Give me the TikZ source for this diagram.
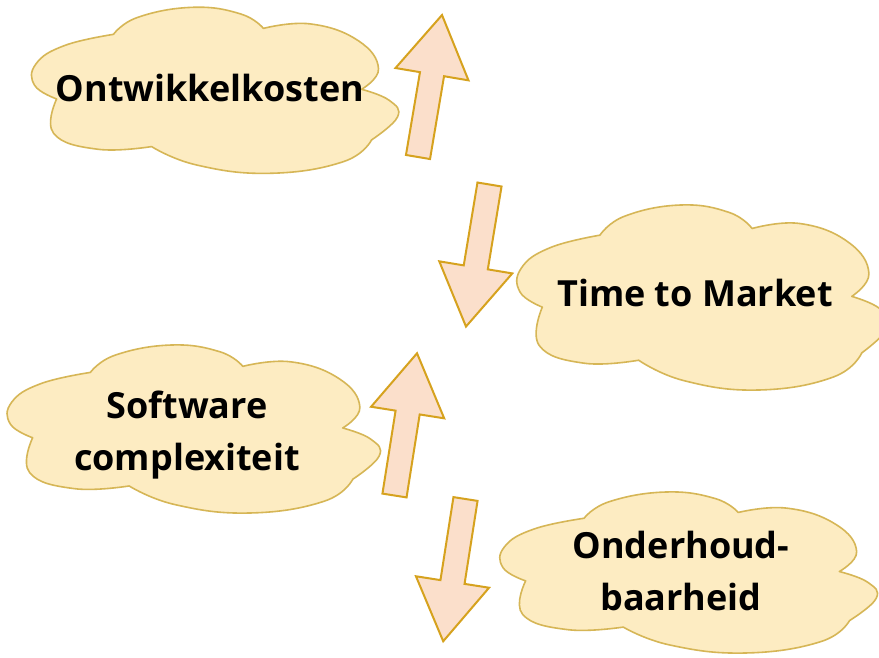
\documentclass[tikz,border=0pt]{standalone}
\usepackage{fontspec}
\setmainfont{Open Sans}
\definecolor{cloudfill}{HTML}{FDECC2}
\definecolor{cloudline}{HTML}{D6B656}
\definecolor{arrowfill}{HTML}{FBDFCB}
\definecolor{arrowline}{HTML}{D6A21E}

\tikzset{
  cloudbody/.style={fill=cloudfill, draw=cloudline, line width=1.6pt, line join=round},
  blockarrow/.style={fill=arrowfill, draw=arrowline, line width=2pt, line join=miter},
  cloudtext/.style={font=\fontsize{36}{52}\selectfont\bfseries, align=center, inner sep=0pt, text=black},
  lobe/.style={smooth, tension=0.75},
}

% Cloud outline drawn in a unit box: (0,0) is the top left corner, (1,1) the bottom right.
% Arguments: left, top, width, height.
\newcommand\cloudat[4]{%
  \begin{scope}[shift={(#1,#2)}, x=#3pt, y=-#4pt]
    \draw[cloudbody] (0.068,0.552)
      -- plot[lobe] coordinates {(0.068,0.552) (0.008,0.47) (0.012,0.34) (0.09,0.23) (0.223,0.163)}
      -- plot[lobe] coordinates {(0.223,0.163) (0.29,0.06) (0.44,0.0) (0.57,0.04) (0.632,0.127)}
      -- plot[lobe] coordinates {(0.632,0.127) (0.76,0.10) (0.89,0.20) (0.946,0.37) (0.9,0.494)}
      -- plot[lobe] coordinates {(0.9,0.494) (0.975,0.56) (0.998,0.66) (0.927,0.799)}
      -- plot[lobe] coordinates {(0.927,0.799) (0.85,0.93) (0.65,1.0) (0.45,0.95) (0.327,0.839)}
      -- plot[lobe] coordinates {(0.327,0.839) (0.18,0.855) (0.06,0.76) (0.068,0.552)}
      -- cycle;
  \end{scope}}

% Block arrow: tail midpoint and rotation (0 points straight up).
\newcommand\arrowat[3]{%
  \draw[blockarrow, shift={(#1,#2)}, rotate=#3]
    (-12.2,0) -- (12.2,0) -- (12.2,-84) -- (37,-84) -- (0,-144)
    -- (-37,-84) -- (-12.2,-84) -- cycle;}

\begin{document}
\begin{tikzpicture}[x=1pt, y=-1pt]
  \useasboundingbox[fill=white] (0,0) rectangle (879,657);

  % clouds
  \cloudat{31.7}{7.3}{366.6}{166}
  \cloudat{517}{205}{372}{185}
  \cloudat{7.3}{345}{372.7}{168}
  \cloudat{500}{492}{377}{161}

  % arrows
  \arrowat{418}{157}{-9.6}
  \arrowat{489.5}{184.5}{170.6}
  \arrowat{394.5}{495.5}{-9}
  \arrowat{465.5}{499}{171.1}

  % labels
  \node[cloudtext, anchor=base] (kosten) at (210,101.5) {Ontwikkelkosten};
  \node[cloudtext, anchor=base] (ttm) at (695,306.5) {Time to Market};
  \node[cloudtext] (complex) at (187,435) {Software\\complexiteit};
  \node[cloudtext] (onderhoud) at (681,571) {Onderhoud-\\baarheid};
\end{tikzpicture}
\end{document}
